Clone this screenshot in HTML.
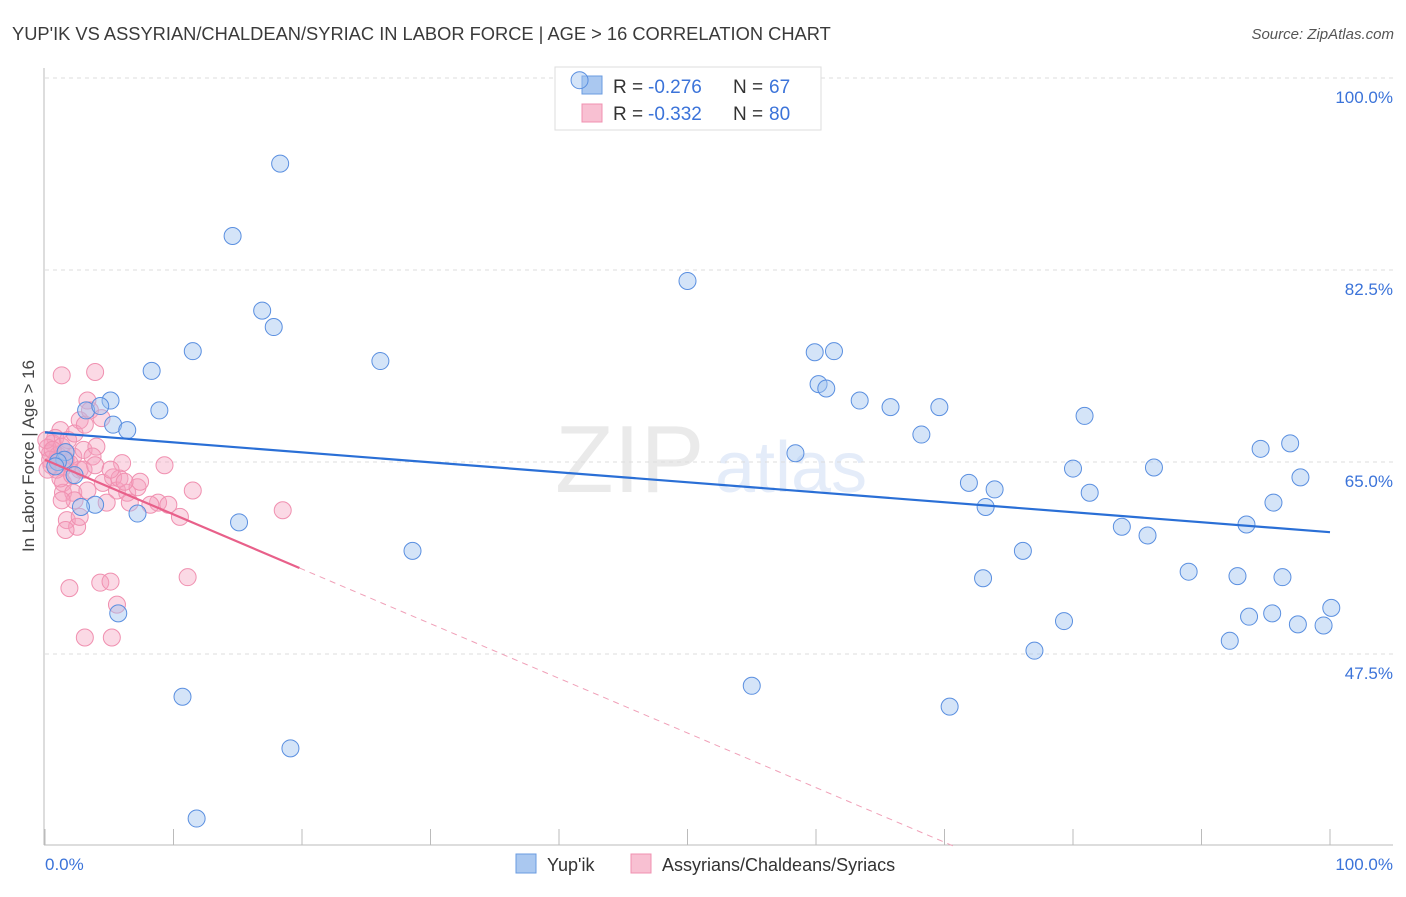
<!DOCTYPE html>
<html><head><meta charset="utf-8"><style>
body{margin:0;background:#fff;font-family:"Liberation Sans",sans-serif;}
svg text{font-family:"Liberation Sans",sans-serif;}
</style></head><body>
<svg id="chart" width="1406" height="892" xmlns="http://www.w3.org/2000/svg">
<text x="12" y="40" font-size="18.3" fill="#3a3a3a">YUP'IK VS ASSYRIAN/CHALDEAN/SYRIAC IN LABOR FORCE | AGE &gt; 16 CORRELATION CHART</text>
<text x="1394" y="39" font-size="15" fill="#555" font-style="italic" text-anchor="end">Source: ZipAtlas.com</text>
<g opacity="0.13"><text x="555" y="492" font-size="96" font-family="Liberation Serif" fill="#666">ZIP</text><text x="715" y="492" font-size="72" fill="#3b73d9">atlas</text></g>
<g id="grid"></g>
<line x1="44" y1="68" x2="44" y2="845" stroke="#bbb"/>
<line x1="44" y1="845" x2="1393" y2="845" stroke="#bbb"/>
<text transform="translate(34,456) rotate(-90)" font-size="17" fill="#444" text-anchor="middle">In Labor Force | Age &gt; 16</text>
<text x="45" y="870" font-size="17" fill="#3b73d9">0.0%</text>
<text x="1393" y="870" font-size="17" fill="#3b73d9" text-anchor="end">100.0%</text>
<g>
<rect x="555" y="67" width="266" height="63" fill="#fff" stroke="#ddd"/>
<rect x="582" y="76" width="20" height="18" fill="#aac8f0" stroke="#6a9be0"/>
<rect x="582" y="104" width="20" height="18" fill="#f8c0d2" stroke="#f090b0"/>
<text x="613" y="93" font-size="19" fill="#333">R =</text>
<text x="648" y="93" font-size="19" fill="#3b73d9">-0.276</text>
<text x="733" y="93" font-size="19" fill="#333">N =</text>
<text x="769" y="93" font-size="19" fill="#3b73d9">67</text>
<text x="613" y="120" font-size="19" fill="#333">R =</text>
<text x="648" y="120" font-size="19" fill="#3b73d9">-0.332</text>
<text x="733" y="120" font-size="19" fill="#333">N =</text>
<text x="769" y="120" font-size="19" fill="#3b73d9">80</text>
</g>
<g id="marks"></g>
<g>
<rect x="516" y="854" width="20" height="19" fill="#aac8f0" stroke="#6a9be0"/>
<text x="547" y="871" font-size="18" fill="#333">Yup'ik</text>
<rect x="631" y="854" width="20" height="19" fill="#f8c0d2" stroke="#f090b0"/>
<text x="662" y="871" font-size="18" fill="#333">Assyrians/Chaldeans/Syriacs</text>
</g>
</svg>
<script>
const yTicks=[100,82.5,65,47.5];
const xTicks=[0,10,20,30,40,50,60,70,80,90,100];
const blueX=[41.6,18.3,14.6,50.0,16.9,17.8,11.5,26.1,8.3,59.9,61.4,60.2,60.8,63.4,65.8,69.6,8.9,5.1,3.2,4.3,5.3,6.4,80.9,68.2,58.4,94.6,96.9,80.0,86.3,97.7,71.9,73.9,81.3,73.2,95.6,7.2,15.1,83.8,85.8,93.5,28.6,76.1,89.0,73.0,92.8,96.3,5.7,93.7,95.5,100.1,79.3,97.5,99.5,92.2,77.0,10.7,55.0,70.4,19.1,11.8,3.9,2.8,1.6,1.5,2.3,1.0,0.8];
const blueY=[99.8,92.2,85.6,81.5,78.8,77.3,75.1,74.2,73.3,75.0,75.1,72.1,71.7,70.6,70.0,70.0,69.7,70.6,69.7,70.1,68.4,67.9,69.2,67.5,65.8,66.2,66.7,64.4,64.5,63.6,63.1,62.5,62.2,60.9,61.3,60.3,59.5,59.1,58.3,59.3,56.9,56.9,55.0,54.4,54.6,54.5,51.2,50.9,51.2,51.7,50.5,50.2,50.1,48.7,47.8,43.6,44.6,42.7,38.9,32.5,61.1,60.9,65.9,65.2,63.8,65.0,64.6];
const pinkX=[1.3,3.9,3.3,2.7,1.2,0.6,0.4,0.9,1.4,2.2,3.0,4.0,3.7,2.7,1.4,1.4,2.2,1.7,2.5,1.6,2.7,4.5,5.3,6.0,5.6,6.4,4.8,7.2,6.6,8.8,9.6,10.5,9.3,11.5,18.5,1.9,4.3,5.1,11.1,5.6,3.1,5.2,0.8,0.2,0.5,1.0,0.1,1.3,1.8,2.3,3.1,3.5,4.4,1.2,1.9,0.9,1.6,0.4,0.2,0.6,1.6,2.1,3.0,3.9,5.8,6.2,7.4,5.1,3.3,2.3,8.2,1.3];
const pinkY=[72.9,73.2,70.6,68.8,67.9,66.7,65.8,65.2,64.5,65.5,66.1,66.4,65.5,64.3,63.1,62.2,62.2,59.7,59.1,58.8,60.0,63.1,63.6,64.9,62.4,62.2,61.3,62.7,61.3,61.3,61.1,60.0,64.7,62.4,60.6,53.5,54.0,54.1,54.5,52.0,49.0,49.0,67.2,66.3,64.7,65.6,67.0,66.4,67.0,67.6,68.4,69.7,69.0,63.5,64.9,64.3,65.9,65.2,64.3,66.1,65.2,63.8,64.3,64.7,63.5,63.2,63.2,64.3,62.4,61.5,61.1,61.5];
const blueTrend=[67.7,58.6];
const pinkTrend=[65.2,-0.498];
const pinkSolidEnd=19.8;
const X=v=>45+v*12.85, Y=v=>78+(100-v)*10.971;
const NS="http://www.w3.org/2000/svg";
const grid=document.getElementById('grid'), marks=document.getElementById('marks');
function mk(tag,attrs,parent){const e=document.createElementNS(NS,tag);for(const k in attrs)e.setAttribute(k,attrs[k]);parent.appendChild(e);return e;}
yTicks.forEach(t=>{
 const l=mk('line',{x1:45,x2:1393,y1:Y(t),y2:Y(t),stroke:'#ddd','stroke-dasharray':'4,4'},grid);
 
 
 const tx=mk('text',{x:1393,y:Y(t)+25,'font-size':17,fill:'#3b73d9','text-anchor':'end'},grid);
 tx.textContent=(t===100?'100.0':t.toFixed(1))+'%';
 
 
});
xTicks.forEach(t=>{
 const l=mk('line',{x1:X(t),x2:X(t),y1:829,y2:845,stroke:'#bbb'},grid);
 
 
});
pinkX.forEach((x,i)=>{
 const c=mk('circle',{cx:X(x),cy:Y(pinkY[i]),r:8.5,fill:'rgba(245,160,190,0.4)',stroke:'#f090b0','stroke-width':1},marks);
 
 
});
blueX.forEach((x,i)=>{
 const c=mk('circle',{cx:X(x),cy:Y(blueY[i]),r:8.5,fill:'rgba(160,195,240,0.45)',stroke:'#5a8fe0','stroke-width':1},marks);
 
 
});
const bl=mk('line',{x1:X(0),y1:Y(blueTrend[0]),x2:X(100),y2:Y(blueTrend[1]),stroke:'#2a6fd6','stroke-width':2.2},marks);


const pe=(30-pinkTrend[0])/pinkTrend[1];
const ps=mk('line',{x1:X(0),y1:Y(pinkTrend[0]),x2:X(pinkSolidEnd),y2:Y(pinkTrend[0]+pinkTrend[1]*pinkSolidEnd),stroke:'#e8608a','stroke-width':2.2},marks);


const pd=mk('line',{x1:X(pinkSolidEnd),y1:Y(pinkTrend[0]+pinkTrend[1]*pinkSolidEnd),x2:X(pe),y2:Y(30),stroke:'#f0a0b8','stroke-width':1,'stroke-dasharray':'6,5'},marks);


</script>
</body></html>
